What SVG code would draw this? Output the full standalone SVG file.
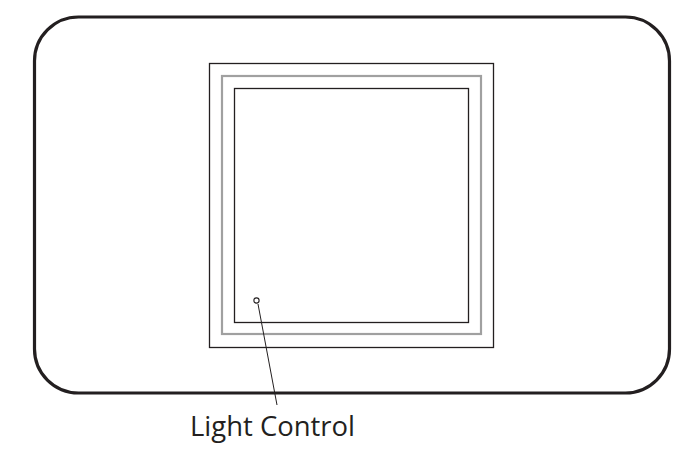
<svg xmlns="http://www.w3.org/2000/svg" width="693" height="464" viewBox="0 0 693 464">
<style>
.blk{fill:none;stroke:#231f20;stroke-width:1.3}
.gry{fill:none;stroke:#a0a0a0;stroke-width:2.2}
.lbl{font-family:"Open Sans","Liberation Sans",sans-serif;font-size:27px;fill:#231f20}
</style>
<rect width="693" height="464" fill="#fff"/>
<g id="housing"><rect x="34.5" y="17" width="635" height="376" rx="44" fill="none" stroke="#231f20" stroke-width="3.2"/></g>
<g id="frame">
<rect class="blk" x="209.5" y="63.5" width="284" height="284"/>
<rect class="gry" x="222" y="76" width="259" height="258"/>
<rect class="blk" x="234.5" y="88.5" width="234" height="234"/>
</g>
<g id="light-control">
<circle cx="256.5" cy="300.5" r="2.6" fill="#fff" stroke="#231f20" stroke-width="1.1"/>
<text class="lbl" x="190" y="436" textLength="165" lengthAdjust="spacingAndGlyphs">Light Control</text>
</g>
<g id="connectors"><line x1="258" y1="304" x2="277" y2="405" stroke="#231f20" stroke-width="1"/></g>
</svg>
